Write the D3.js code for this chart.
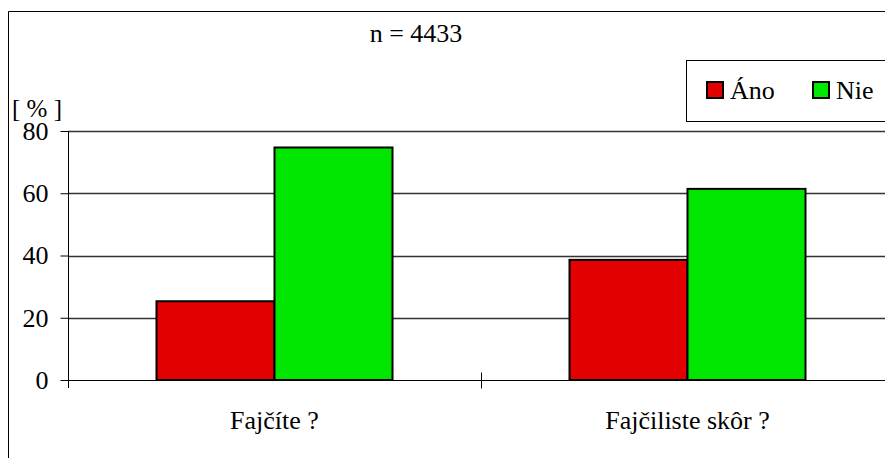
<!DOCTYPE html>
<html lang="sk">
<head>
<meta charset="UTF-8">
<title>Fajčenie</title>
<style>
    * { margin: 0; padding: 0; }
    body { background: #fff; overflow: hidden; }
    svg { display: block; }
</style>
</head>
<body>
<div id="chart"></div>
<script src="https://cdn.jsdelivr.net/npm/d3@7"></script>
<script>
const categories = ['Fajčíte ?', 'Fajčiliste skôr ?']
const seriesNames = ['Áno', 'Nie']
const anoValues = [25.3, 38.6]
const nieValues = [74.7, 61.4]
const yTicks = [0, 20, 40, 60, 80]
const colors = ['#e30000', '#00e600']

function drawChart() {
    const width = 885
    const height = 458
    const font = '"Liberation Serif", "Times New Roman", serif'
    const fontSize = '26px'

    const svg = d3.select('#chart')
        .append('svg')
        .attr('width', width)
        .attr('height', height)
        .style('font-family', font)

    // outer frame (right/bottom edges fall outside the picture)
    svg.append('path')
        .attr('d', `M8.5,${height} V11.5 H${width}`)
        .attr('fill', 'none')
        .attr('stroke', '#000')

    const plot = { left: 68, right: 894, top: 131, bottom: 380 }

    const x = d3.scaleBand()
        .domain(categories)
        .range([plot.left, plot.right])

    const xInner = d3.scaleBand()
        .domain(seriesNames)
        .range([88.5, x.bandwidth() - 88.5])

    const y = d3.scaleLinear()
        .domain([0, 80])
        .range([plot.bottom, plot.top])

    // gridlines
    svg.append('g')
        .selectAll('line')
        .data(yTicks.filter(d => d > 0))
        .join('line')
        .attr('x1', plot.left)
        .attr('x2', width)
        .attr('y1', d => Math.round(y(d)) + 0.5)
        .attr('y2', d => Math.round(y(d)) + 0.5)
        .attr('stroke', '#333')
        .attr('stroke-width', 1.4)

    // bars
    const rows = categories.map((c, i) => ({ cat: c, values: [anoValues[i], nieValues[i]] }))
    const groups = svg.append('g')
        .selectAll('g')
        .data(rows)
        .join('g')
        .attr('transform', d => `translate(${x(d.cat)},0)`)

    groups.selectAll('rect')
        .data(d => d.values.map((v, j) => ({ name: seriesNames[j], value: v, color: colors[j] })))
        .join('rect')
        .attr('x', d => xInner(d.name))
        .attr('y', d => y(d.value))
        .attr('width', xInner.bandwidth())
        .attr('height', d => y(0) - y(d.value))
        .attr('fill', d => d.color)
        .attr('stroke', '#000')
        .attr('stroke-width', 2)

    // y axis
    const yAxis = svg.append('g')
        .attr('transform', `translate(${plot.left + 0.5},0)`)
        .call(d3.axisLeft(y).tickValues(yTicks).tickSizeInner(8).tickSizeOuter(0).tickPadding(12))
    yAxis.select('.domain').attr('d', `M0,${plot.top} V${plot.bottom + 8}`).attr('stroke', '#000')
    yAxis.selectAll('.tick line').attr('stroke', '#000')
    yAxis.selectAll('.tick text')
        .style('font-family', font)
        .style('font-size', fontSize)
        .attr('fill', '#000')

    // x axis
    const xAxis = svg.append('g')
        .attr('transform', `translate(0,${plot.bottom + 0.5})`)
    xAxis.append('line')
        .attr('x1', plot.left)
        .attr('x2', width)
        .attr('stroke', '#000')
    xAxis.selectAll('line.sep')
        .data(categories.slice(1))
        .join('line')
        .attr('class', 'sep')
        .attr('x1', d => Math.round(x(d)) + 0.5)
        .attr('x2', d => Math.round(x(d)) + 0.5)
        .attr('y1', -8)
        .attr('y2', 8)
        .attr('stroke', '#000')
    xAxis.selectAll('text')
        .data(categories)
        .join('text')
        .attr('x', d => x(d) + x.bandwidth() / 2)
        .attr('y', 48)
        .attr('text-anchor', 'middle')
        .style('font-size', fontSize)
        .text(d => d)

    // title
    svg.append('text')
        .attr('x', 416)
        .attr('y', 42)
        .attr('text-anchor', 'middle')
        .style('font-size', fontSize)
        .text('n = 4433')

    // y unit label
    svg.append('text')
        .attr('x', 12)
        .attr('y', 117)
        .style('font-size', '25px')
        .attr('xml:space', 'preserve')
        .text('[ % ]')

    // legend
    const legend = svg.append('g')
        .attr('transform', 'translate(686,60)')
    legend.append('rect')
        .attr('x', 0.5)
        .attr('y', 0.5)
        .attr('width', 240)
        .attr('height', 61)
        .attr('fill', '#fff')
        .attr('stroke', '#000')
    const items = legend.selectAll('g')
        .data(seriesNames)
        .join('g')
        .attr('transform', (d, i) => `translate(${21 + i * 106},22)`)
    items.append('rect')
        .attr('width', 16)
        .attr('height', 16)
        .attr('fill', (d, i) => colors[i])
        .attr('stroke', '#000')
        .attr('stroke-width', 2)
    items.append('text')
        .attr('x', 23)
        .attr('y', 17)
        .style('font-size', fontSize)
        .text(d => d)
}

drawChart()
</script>
</body>
</html>
